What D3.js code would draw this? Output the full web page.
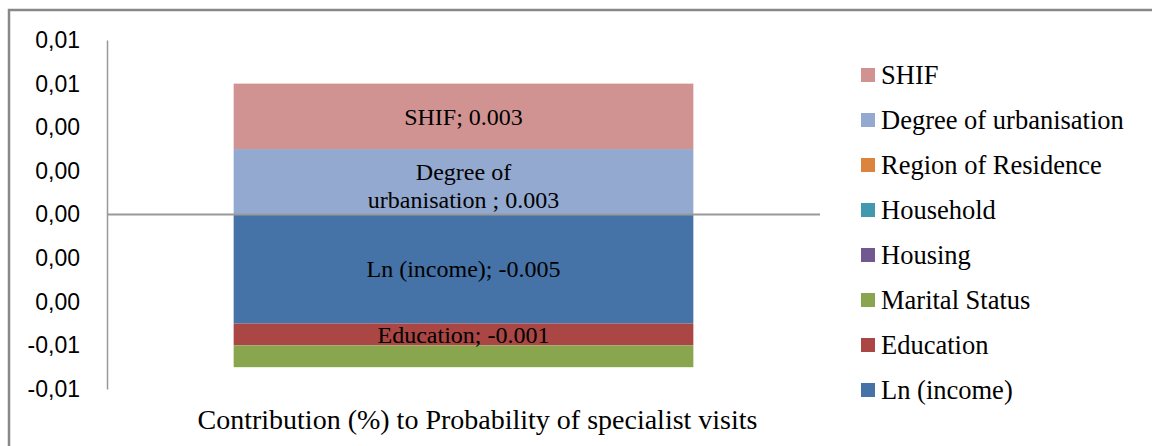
<!DOCTYPE html>
<html>
<head>
<meta charset="utf-8">
<script src="https://cdn.jsdelivr.net/npm/d3@7"></script>
<style>
  html, body { margin: 0; padding: 0; background: #fff; }
  svg { display: block; }
</style>
</head>
<body>
<svg id="chart" width="1152" height="446"></svg>
<script>
// Single stacked column: contributions of each factor group
const categories = ["Contribution (%) to Probability of specialist visits"];
const seriesNames = ["Ln (income)", "Education", "Marital Status", "Housing", "Household",
                     "Region of Residence", "Degree of urbanisation", "SHIF"];
const seriesValues = [-0.005, -0.001, -0.001, 0, 0, 0, 0.003, 0.003];
const seriesColors = ["#4572A7", "#AA4643", "#89A54E", "#71588F", "#4198AF",
                      "#DB843D", "#93A9CF", "#D19392"];
const yTicks = [-0.008, -0.006, -0.004, -0.002, 0, 0.002, 0.004, 0.006, 0.008];
const labelledSeries = ["SHIF", "Degree of urbanisation", "Ln (income)", "Education"];

const serif = "'Liberation Serif', 'Times New Roman', serif";
const sans = "'Liberation Sans', Arial, sans-serif";

const svg = d3.select("#chart");

// outer chart frame (runs off the right and bottom edges)
svg.append("rect")
  .attr("x", 9).attr("y", 10)
  .attr("width", 1200).attr("height", 500)
  .attr("fill", "none")
  .attr("stroke", "#888")
  .attr("stroke-width", 2.5);

const x = d3.scaleBand().domain(categories).range([107, 820]).padding(0.216);
const y = d3.scaleLinear().domain([-0.008, 0.008]).range([389, 40]);

const row = { category: categories[0] };
seriesNames.forEach((k, i) => row[k] = seriesValues[i]);

const stacked = d3.stack()
  .keys(seriesNames)
  .offset(d3.stackOffsetDiverging)([row]);

const color = d3.scaleOrdinal().domain(seriesNames).range(seriesColors);

// bars
svg.append("g").selectAll("rect")
  .data(stacked)
  .join("rect")
  .attr("x", d => x(d[0].data.category))
  .attr("width", x.bandwidth())
  .attr("y", d => y(Math.max(d[0][0], d[0][1])))
  .attr("height", d => Math.abs(y(d[0][0]) - y(d[0][1])))
  .attr("fill", d => color(d.key));

// number formats: comma decimals on the axis, point decimals in labels
const commaLocale = d3.formatLocale({ decimal: ",", thousands: ".", grouping: [3], currency: ["", ""], minus: "-" });
const pointLocale = d3.formatLocale({ decimal: ".", thousands: ",", grouping: [3], currency: ["", ""], minus: "-" });
const fmt = commaLocale.format(".2f");
const labelFmt = pointLocale.format(".3f");

// y axis
const yAxis = svg.append("g")
  .attr("transform", `translate(${107},0)`)
  .call(d3.axisLeft(y).tickValues(yTicks).tickFormat(fmt).tickSize(0).tickPadding(27));
yAxis.select(".domain").attr("stroke", "#999").attr("stroke-width", 1.5);
yAxis.selectAll("text")
  .attr("font-family", sans)
  .attr("font-size", 23)
  .attr("fill", "#000");

// zero line
svg.append("line")
  .attr("x1", 107).attr("x2", 820)
  .attr("y1", y(0)).attr("y2", y(0))
  .attr("stroke", "#999")
  .attr("stroke-width", 2);

// data labels
const labels = svg.append("g")
  .attr("font-family", serif)
  .attr("font-size", 24)
  .attr("fill", "#000")
  .attr("text-anchor", "middle");

stacked.filter(s => labelledSeries.includes(s.key)).forEach(s => {
  const seg = s[0];
  const cx = x(seg.data.category) + x.bandwidth() / 2;
  const cy = (y(seg[0]) + y(seg[1])) / 2;
  const v = labelFmt(seg.data[s.key]);
  if (s.key === "Degree of urbanisation") {
    const t = labels.append("text").attr("x", cx).attr("y", cy + 5);
    t.append("tspan").attr("x", cx).attr("dy", "-0.3em").text("Degree of");
    t.append("tspan").attr("x", cx).attr("dy", "1.2em").text(`urbanisation ; ${v}`);
  } else {
    labels.append("text")
      .attr("x", cx).attr("y", cy)
      .attr("dy", "0.35em")
      .text(`${s.key}; ${v}`);
  }
});

// category axis title
svg.append("text")
  .attr("x", x(categories[0]) + x.bandwidth() / 2 + 14)
  .attr("y", 429)
  .attr("text-anchor", "middle")
  .attr("font-family", serif)
  .attr("font-size", 28)
  .attr("fill", "#000")
  .text(categories[0]);

// legend, listed top-down in reverse stacking order
const legendItems = seriesNames.slice().reverse();
const legend = svg.append("g")
  .selectAll("g")
  .data(legendItems)
  .join("g")
  .attr("transform", (d, i) => `translate(861,${75 + i * 45})`);
legend.append("rect")
  .attr("x", 0).attr("y", -7)
  .attr("width", 14).attr("height", 14)
  .attr("fill", d => color(d));
legend.append("text")
  .attr("x", 20).attr("y", 0)
  .attr("dy", "0.35em")
  .attr("font-family", serif)
  .attr("font-size", 26.5)
  .attr("fill", "#000")
  .text(d => d);
</script>
</body>
</html>
